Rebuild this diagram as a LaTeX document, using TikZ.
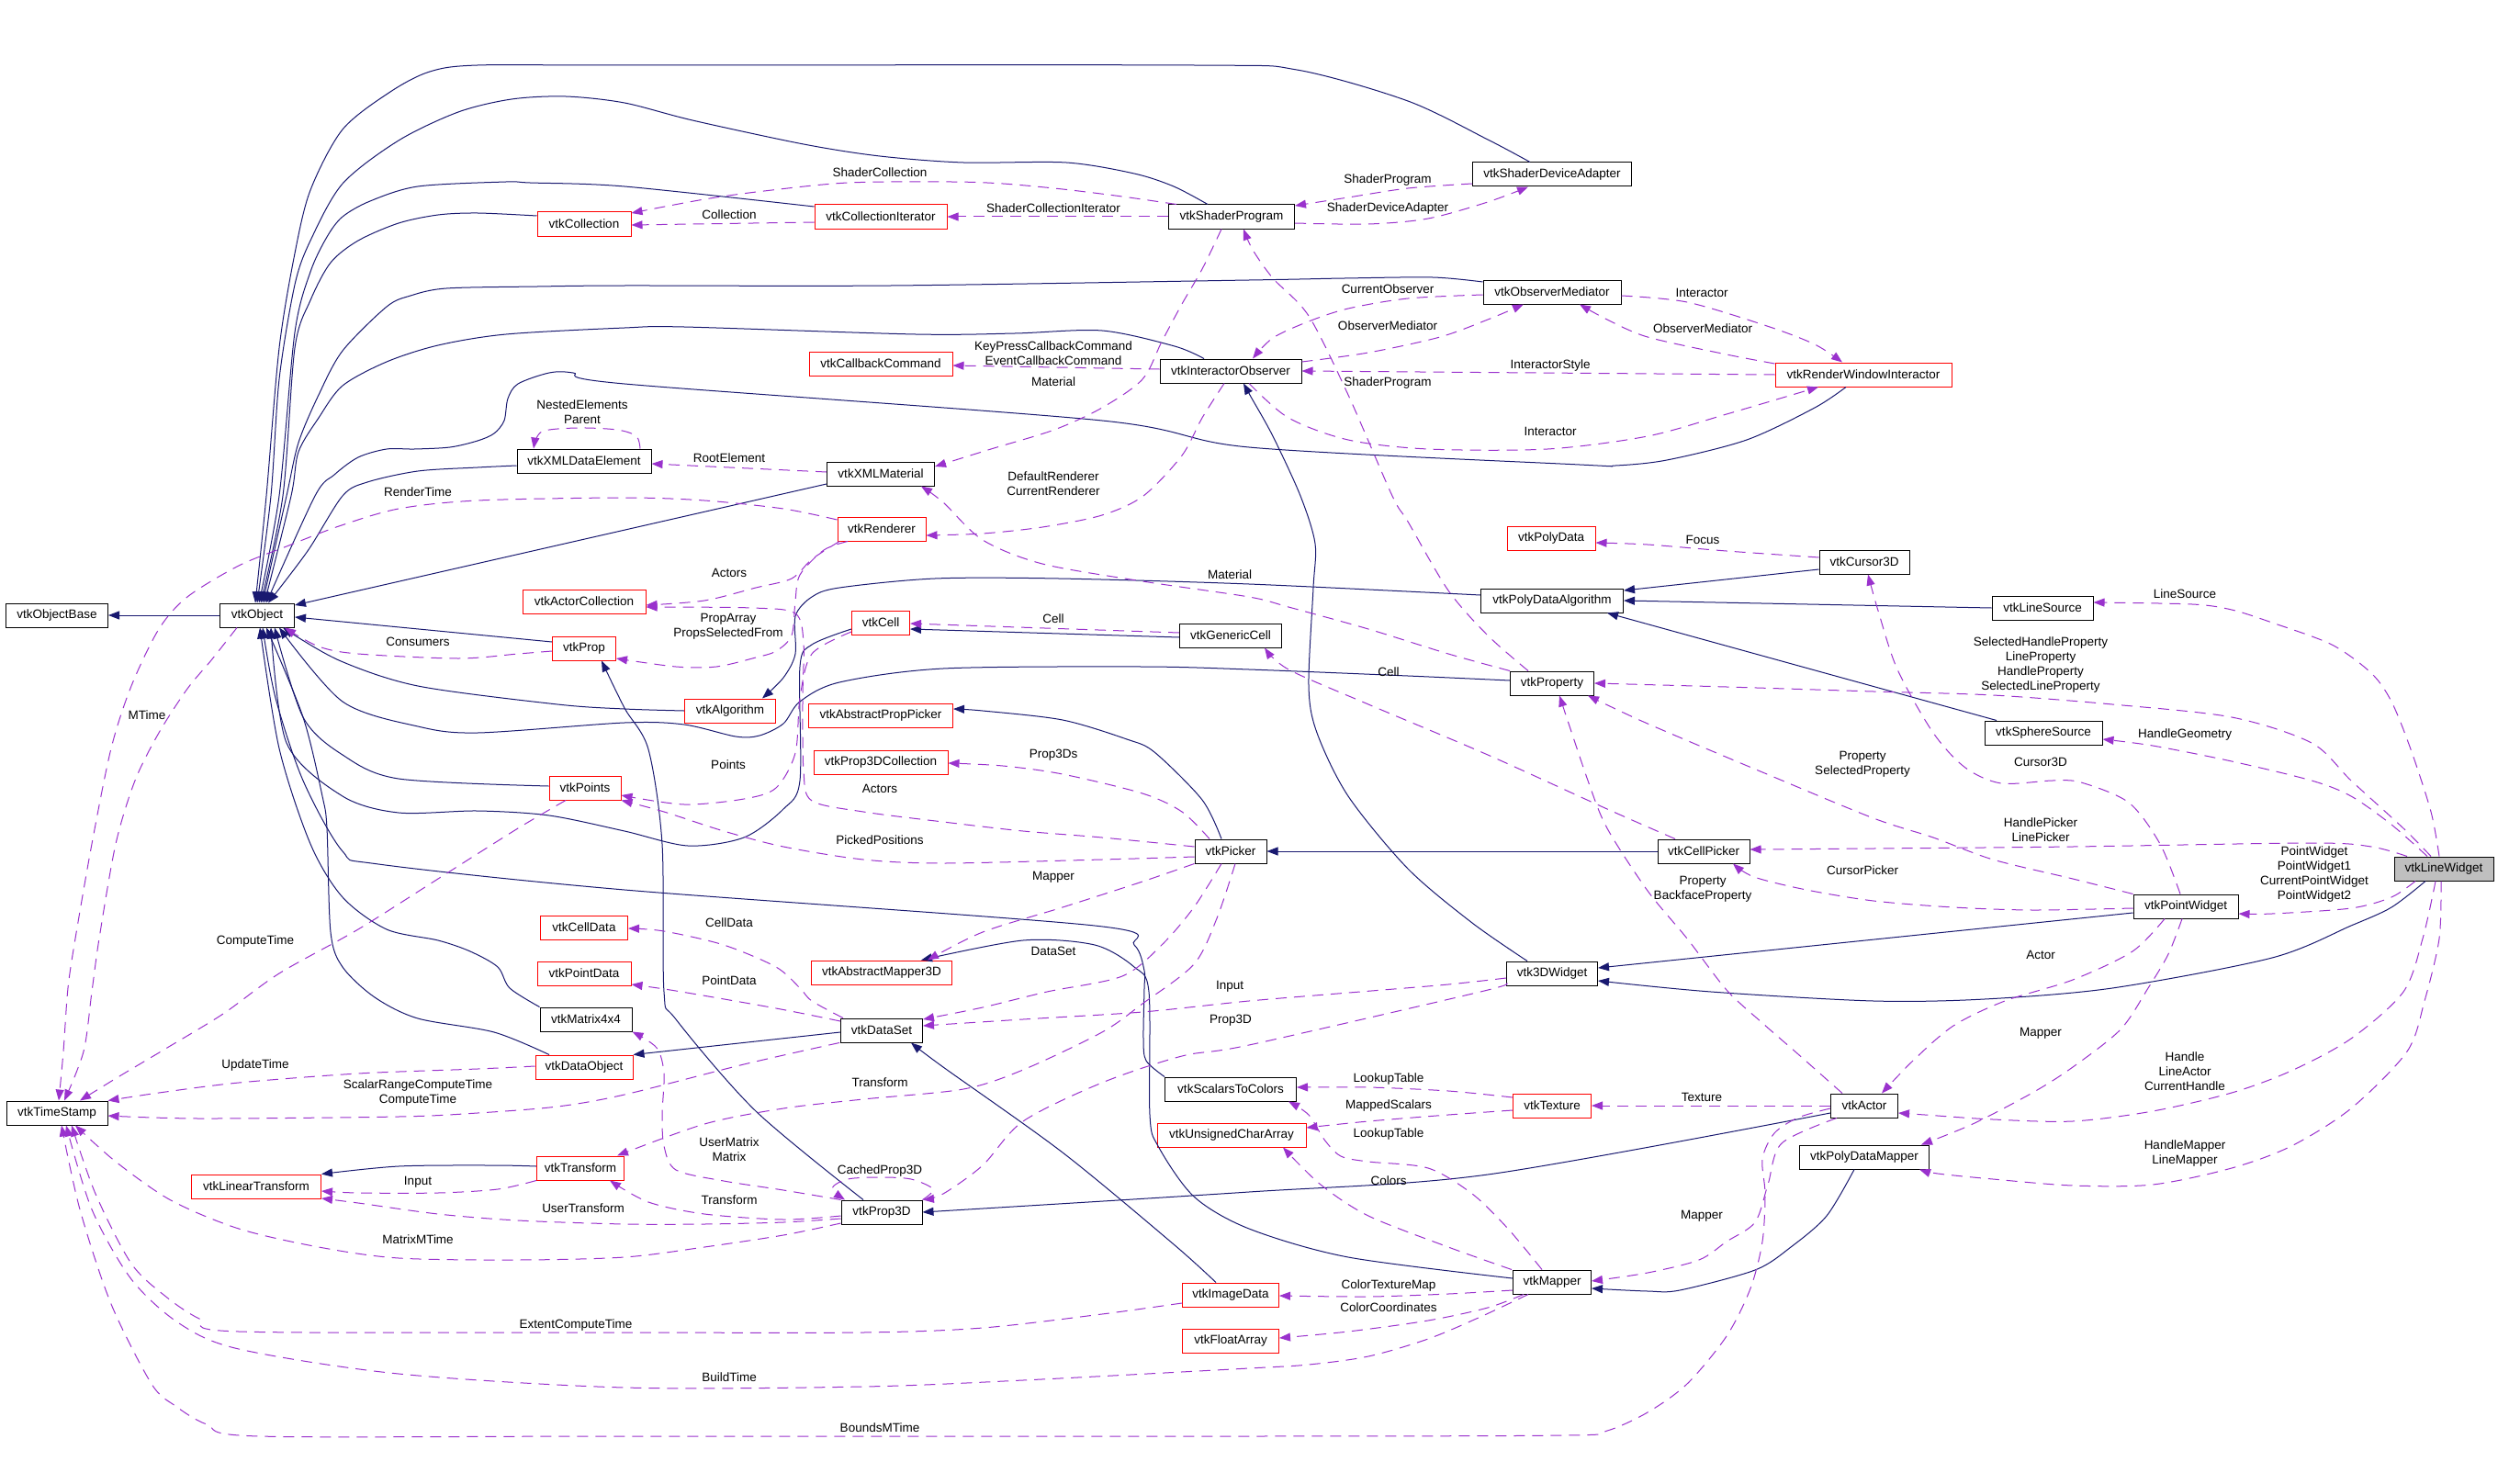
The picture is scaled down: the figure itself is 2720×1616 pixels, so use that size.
\documentclass[tikz,border=0pt]{standalone}
\usepackage{fontspec}
\setmainfont{Liberation Sans}
\usepackage{tikz}
\usepackage{xcolor}
\usetikzlibrary{arrows.meta}

\definecolor{edgeblue}{RGB}{25,25,112}
\definecolor{edgepurple}{RGB}{154,50,205}
\newcommand\lblfont{\fontsize{13.5}{16}\selectfont}

\tikzset{
  cls/.style={draw=black, line width=1pt, fill=white, minimum height=26pt,
    inner xsep=4pt, inner ysep=0pt, font=\lblfont},
  clsred/.style={cls, draw=red},
  clscur/.style={cls, fill=black!25},
  baseedge/.style={edgeblue, line width=1pt, -{Triangle[length=12pt,width=9pt]}},
  useedge/.style={edgepurple, line width=1pt, dash pattern=on 12pt off 8pt,
    -{Triangle[length=12pt,width=9pt]}},
  lbl/.style={font=\lblfont, inner sep=0pt, align=center}
}

\begin{document}
\begin{tikzpicture}[x=1pt,y=-1pt]
    \useasboundingbox (0,0) rectangle (2720,1616);
    \fill[white] (0,0) rectangle (2720,1616);

    % classes
    \node[cls, minimum width=111pt] (ObjBase) at (62,670) {vtkObjectBase};
    \node[cls, minimum width=81pt] (Obj) at (280,670) {vtkObject};
    \node[cls, minimum width=110pt] (TimeStamp) at (62,1212) {vtkTimeStamp};
    \node[clsred, minimum width=102pt] (Collection) at (636,244) {vtkCollection};
    \node[clsred, minimum width=144pt] (CollIter) at (959,236) {vtkCollectionIterator};
    \node[cls, minimum width=137pt] (ShaderProg) at (1341,236) {vtkShaderProgram};
    \node[cls, minimum width=173pt] (ShaderDev) at (1690,190) {vtkShaderDeviceAdapter};
    \node[cls, minimum width=150pt] (ObsMed) at (1690,318) {vtkObserverMediator};
    \node[clsred, minimum width=192pt] (RWI) at (2029,408) {vtkRenderWindowInteractor};
    \node[cls, minimum width=154pt] (IntObs) at (1340,404) {vtkInteractorObserver};
    \node[clsred, minimum width=156pt] (CallbackCmd) at (959,396) {vtkCallbackCommand};
    \node[cls, minimum width=146pt] (XMLDataEl) at (636,502) {vtkXMLDataElement};
    \node[cls, minimum width=117pt] (XMLMat) at (959,516) {vtkXMLMaterial};
    \node[clsred, minimum width=96pt] (Renderer) at (960,576) {vtkRenderer};
    \node[clsred, minimum width=134pt] (ActorColl) at (636,655) {vtkActorCollection};
    \node[clsred, minimum width=69pt] (Prop) at (636,706) {vtkProp};
    \node[clsred, minimum width=63pt] (Cell) at (959,678) {vtkCell};
    \node[cls, minimum width=111pt] (GenCell) at (1340,692) {vtkGenericCell};
    \node[clsred, minimum width=99pt] (Algorithm) at (795,774) {vtkAlgorithm};
    \node[clsred, minimum width=157pt] (AbsPropPicker) at (959,779) {vtkAbstractPropPicker};
    \node[clsred, minimum width=146pt] (Prop3DColl) at (959,830) {vtkProp3DCollection};
    \node[clsred, minimum width=78pt] (Points) at (637,858) {vtkPoints};
    \node[cls, minimum width=78pt] (Picker) at (1340,927) {vtkPicker};
    \node[clsred, minimum width=95pt] (CellData) at (636,1010) {vtkCellData};
    \node[clsred, minimum width=102pt] (PointData) at (636,1060) {vtkPointData};
    \node[clsred, minimum width=153pt] (AbsMapper) at (960,1059) {vtkAbstractMapper3D};
    \node[cls, minimum width=100pt] (Matrix) at (638,1110) {vtkMatrix4x4};
    \node[cls, minimum width=89pt] (DataSet) at (960,1122) {vtkDataSet};
    \node[clsred, minimum width=106pt] (DataObj) at (636,1162) {vtkDataObject};
    \node[clsred, minimum width=95pt] (Transform) at (632,1272) {vtkTransform};
    \node[clsred, minimum width=141pt] (LinTransform) at (279,1292) {vtkLinearTransform};
    \node[cls, minimum width=88pt] (Prop3D) at (960,1320) {vtkProp3D};
    \node[clsred, minimum width=105pt] (ImageData) at (1340,1410) {vtkImageData};
    \node[clsred, minimum width=105pt] (FloatArr) at (1340,1460) {vtkFloatArray};
    \node[cls, minimum width=85pt] (Mapper) at (1690,1396) {vtkMapper};
    \node[cls, minimum width=143pt] (ScalarsToColors) at (1340,1186) {vtkScalarsToColors};
    \node[clsred, minimum width=162pt] (UCharArr) at (1341,1236) {vtkUnsignedCharArray};
    \node[clsred, minimum width=85pt] (Texture) at (1690,1204) {vtkTexture};
    \node[cls, minimum width=73pt] (Actor) at (2030,1204) {vtkActor};
    \node[cls, minimum width=141pt] (PDMapper) at (2030,1260) {vtkPolyDataMapper};
    \node[cls, minimum width=99pt] (Widget3D) at (1690,1060) {vtk3DWidget};
    \node[cls, minimum width=100pt] (CellPicker) at (1855,927) {vtkCellPicker};
    \node[cls, minimum width=91pt] (Property) at (1690,744) {vtkProperty};
    \node[cls, minimum width=155pt] (PDAlgorithm) at (1690,654) {vtkPolyDataAlgorithm};
    \node[clsred, minimum width=96pt] (PolyData) at (1689,586) {vtkPolyData};
    \node[cls, minimum width=98pt] (Cursor3D) at (2030,612) {vtkCursor3D};
    \node[cls, minimum width=110pt] (LineSource) at (2224,662) {vtkLineSource};
    \node[cls, minimum width=128pt] (SphereSource) at (2225,798) {vtkSphereSource};
    \node[cls, minimum width=114pt] (PointWidget) at (2380,987) {vtkPointWidget};
    \node[clscur, minimum width=108pt] (LineWidget) at (2661,946) {vtkLineWidget};

    % inheritance
    \draw[baseedge] (Obj) -- (ObjBase);
    \draw[baseedge] plot[smooth] coordinates {([xshift=-24pt]ShaderDev.north) (1620,152) (1533,110) (1412,76) (1300,71) (680,71) (520,71) (468,78) (425,100) (373,141) (338,207) (321,276) (304,379) (290,540) ([xshift=-2pt]Obj.north)};
    \draw[baseedge] plot[smooth] coordinates {([xshift=-26pt]ShaderProg.north) (1278,203) (1235,189) (1161,177) (1049,177) (958,170) (875,157) (754,131) (680,112) (616,105) (557,108) (499,122) (434,153) (373,200) (338,262) (321,310) (304,413) (295,540) (Obj.north)};
    \draw[baseedge] plot[smooth] coordinates {([yshift=11pt]CollIter.west) (680,203) (577,199) (551,198) (455,203) (403,219) (373,236) (356,258) (338,296) (321,362) (304,540) ([xshift=2pt]Obj.north)};
    \draw[baseedge] plot[smooth] coordinates {([yshift=9pt]Collection.west) (520,232) (477,234) (434,243) (390,262) (360,286) (338,327) (321,379) (308,540) ([xshift=4pt]Obj.north)};
    \draw[baseedge] plot[smooth] coordinates {([yshift=11pt]ObsMed.west) (1560,302) (1464,303) (1360,305) (970,311) (680,311) (585,312) (486,314) (447,322) (421,334) (373,382) (347,430) (325,482) (312,540) ([xshift=6pt]Obj.north)};
    \draw[baseedge] plot[smooth] coordinates {([xshift=-29pt]IntObs.north) (1279,377) (1200,360) (1105,363) (997,364) (745,356) (680,357) (551,364) (477,376) (421,394) (373,420) (347,455) (325,492) (317,540) ([xshift=8pt]Obj.north)};
    \draw[baseedge] plot[smooth] coordinates {([xshift=-19pt]RWI.south) (1976,444) (1902,479) (1815,501) (1759,507) (1720,506) (1360,487) (1200,458) (680,418) (624,406) (598,406) (564,418) (553,434) (549,458) (538,472) (520,480) (490,487) (451,489) (421,489) (390,498) (364,517) (343,540) ([xshift=10pt]Obj.north)};
    \draw[baseedge] plot[smooth] coordinates {([yshift=-5pt]XMLDataEl.west) (520,509) (455,513) (400,525) (373,540) (335,600) ([xshift=12pt]Obj.north)};
    \draw[baseedge] ([yshift=-11pt]XMLMat.west) -- ([yshift=11pt]Obj.east);
    \draw[baseedge] ([yshift=7pt]Prop.west) -- ([yshift=-2pt]Obj.east);
    \draw[baseedge] plot[smooth] coordinates {(Algorithm.west) (680,772) (607,767) (455,747) (369,719) ([xshift=28pt]Obj.south)};
    \draw[baseedge] plot[smooth] coordinates {([yshift=3pt]Property.west) (1533,736) (1360,729) (1244,726) (1027,728) (914,743) (871,764) (853,788) (827,801) (801,802) (745,789) (680,787) (520,798) (455,791) (373,764) ([xshift=24pt]Obj.south)};
    \draw[baseedge] plot[smooth] coordinates {([yshift=-7pt]Cell.west) (884,702) (871,726) (871,850) (853,881) (810,912) (749,921) (680,905) (598,888) (520,883) (434,885) (373,867) (312,809) ([xshift=15pt]Obj.south)};
    \draw[baseedge] plot[smooth] coordinates {([yshift=2pt]Points.west) (434,848) (373,822) (330,781) ([xshift=19pt]Obj.south)};
    \draw[baseedge] plot[smooth] coordinates {(ScalarsToColors.north west) (1248,1155) (1245,1131) (1246,1076) (1246,1057) (1235,1029) (1192,1008) (680,969) (412,941) (373,927) (330,850) (300,760) ([xshift=6pt]Obj.south)};
    \draw[baseedge] plot[smooth] coordinates {(Matrix.north west) (555,1076) (542,1053) (512,1036) (477,1024) (421,1012) (373,977) (338,919) (304,815) ([xshift=3pt]Obj.south)};
    \draw[baseedge] plot[smooth] coordinates {([xshift=-38pt]DataObj.north) (538,1124) (455,1109) (408,1086) (373,1053) (360,1015) (356,902) (351,867) (330,781) ([xshift=10pt]Obj.south)};
    \draw[baseedge] plot[smooth] coordinates {([xshift=-20pt]Prop3D.north) (823,1210) (736,1110) (723,1080) (721,919) (706,816) (680,771) ([xshift=19pt]Prop.south)};
    \draw[baseedge] plot[smooth] coordinates {([xshift=-10pt]Picker.north) (1309,871) (1257,819) (1227,805) (1157,784) (1070,774) ([yshift=7pt]AbsPropPicker.east)};
    \draw[baseedge] ([yshift=-2pt]GenCell.west) -- ([yshift=-7pt]Cell.east);
    \draw[baseedge] plot[smooth] coordinates {([yshift=6pt]PDAlgorithm.west) (1360,636) (1153,630) (1018,630) (914,640) (884,650) (866,671) (866,712) (853,738) ([xshift=35pt]Algorithm.north)};
    \draw[baseedge] ([yshift=-8pt]Cursor3D.west) -- ([yshift=11pt]PDAlgorithm.east);
    \draw[baseedge] (LineSource.west) -- (PDAlgorithm.east);
    \draw[baseedge] ([xshift=-51pt]SphereSource.north) -- ([xshift=60pt]PDAlgorithm.south);
    \draw[baseedge] (CellPicker) -- (Picker);
    \draw[baseedge] plot[smooth] coordinates {([xshift=-27pt]Widget3D.north) (1603,1005) (1533,946) (1468,867) (1434,798) (1425,747) (1430,640) (1432,592) (1416,540) (1386,475) (1362,432) ([xshift=14pt]IntObs.south)};
    \draw[baseedge] ([yshift=-7pt]PointWidget.west) -- ([yshift=6pt]Widget3D.east);
    \draw[baseedge] plot[smooth] coordinates {([xshift=-20pt]LineWidget.south) (2604,988) (2560,1008) (2474,1043) (2300,1076) (2161,1088) (2040,1090) (1863,1080) ([yshift=-8pt]Widget3D.east)};
    \draw[baseedge] plot[smooth] coordinates {([yshift=-8pt]Actor.west) (1620,1279) (1360,1298) (Prop3D.east)};
    \draw[baseedge] plot[smooth] coordinates {([xshift=-11pt]PDMapper.south) (1989,1324) (1950,1358) (1911,1383) (1829,1405) (1794,1406) ([yshift=-7pt]Mapper.east)};
    \draw[baseedge] ([yshift=-2pt]DataSet.west) -- (DataObj.north east);
    \draw[baseedge] plot[smooth] coordinates {([xshift=-16pt]ImageData.north) (1278,1355) (1157,1255) (1027,1162) ([xshift=32pt]DataSet.south)};
    \draw[baseedge] plot[smooth] coordinates {([yshift=2pt]Transform.west) (538,1269) (434,1270) (LinTransform.north east)};
    \draw[baseedge] plot[smooth] coordinates {([yshift=4pt]Mapper.west) (1468,1369) (1360,1338) (1300,1303) (1261,1248) (1252,1214) (1251,1080) (1235,1053) (1192,1029) (1114,1024) ([xshift=43pt]AbsMapper.north)};

    % usage, top part
    \draw[useedge] plot[smooth] coordinates {([xshift=-60pt]ShaderProg.north) (1222,214) (1157,206) (1092,200) (1036,198) (923,199) (832,208) (767,217) ([yshift=12pt]Collection.east)};
    \draw[useedge] ([yshift=-6pt]CollIter.west) -- ([yshift=-1pt]Collection.east);
    \draw[useedge] (ShaderProg.west) -- (CollIter.east);
    \draw[useedge] plot[smooth] coordinates {([yshift=-10pt]ShaderDev.west) (1533,205) (1468,215) ([yshift=12pt]ShaderProg.east)};
    \draw[useedge] plot[smooth] coordinates {([yshift=-7pt]ShaderProg.east) (1490,244) (1555,238) (1620,220) ([xshift=-26pt]ShaderDev.south)};
    \draw[useedge] plot[smooth] coordinates {([yshift=-3pt]ObsMed.west) (1533,325) (1468,336) (1425,350) (1386,368) ([xshift=24pt]IntObs.north)};
    \draw[useedge] plot[smooth] coordinates {([yshift=10pt]IntObs.east) (1490,384) (1568,367) (1620,348) ([xshift=-31pt]ObsMed.south)};
    \draw[useedge] plot[smooth] coordinates {([yshift=12pt]RWI.west) (1880,386) (1794,367) (1750,348) ([xshift=30pt]ObsMed.south)};
    \draw[useedge] plot[smooth] coordinates {([yshift=-4pt]ObsMed.east) (1837,329) (1924,355) (1976,375) ([xshift=-23pt]RWI.north)};
    \draw[useedge] (RWI.west) -- (IntObs.east);
    \draw[useedge] plot[smooth] coordinates {([xshift=20pt]IntObs.south) (1403,455) (1468,479) (1555,489) (1685,489) (1794,475) (1880,451) ([xshift=-49pt]RWI.south)};
    \draw[useedge] ([yshift=2pt]IntObs.west) -- ([yshift=-2pt]CallbackCmd.east);
    \draw[useedge] plot[smooth] coordinates {([xshift=-26pt]Property.north) (1620,692) (1577,643) (1533,568) (1516,540) (1468,430) (1425,344) (1386,303) (1364,272) ([xshift=13pt]ShaderProg.south)};
    \draw[useedge] plot[smooth] coordinates {([xshift=-11pt]ShaderProg.south) (1309,293) (1287,331) (1265,372) (1244,413) (1200,444) (1148,468) (1079,489) ([yshift=8pt]XMLMat.east)};
    \draw[useedge] plot[smooth] coordinates {([xshift=61pt]XMLDataEl.north) (693,475) (672,468) (629,466) (590,470) ([xshift=-55pt]XMLDataEl.north)};
    \draw[useedge] ([yshift=2pt]XMLMat.west) -- ([yshift=-3pt]XMLDataEl.east);
    \draw[useedge] plot[smooth] coordinates {(Property.north west) (1577,712) (1490,685) (1403,661) (1360,650) (1244,633) (1135,614) (1070,588) (1027,547) ([xshift=44pt]XMLMat.south)};
    \draw[useedge] plot[smooth] coordinates {([xshift=-7pt]IntObs.south) (1309,455) (1287,496) (1245,540) (1200,561) (1135,574) (1070,581) ([yshift=-7pt]Renderer.east)};

    % usage, middle part
    \draw[useedge] plot[smooth] coordinates {([yshift=10pt]Renderer.west) (853,554) (767,545) (680,542) (520,545) (434,554) (369,573) (312,595) (260,616) (204,650) (173,685) (143,747) (121,815) (100,919) (82,1022) (74,1076) (69,1145) ([xshift=2pt]TimeStamp.north)};
    \draw[useedge] plot[smooth] coordinates {([xshift=-22pt]Obj.south) (230,719) (204,750) (173,798) (147,850) (126,919) (108,1022) (100,1080) (91,1145) ([xshift=8pt]TimeStamp.north)};
    \draw[useedge] plot[smooth] coordinates {([xshift=-46pt]Renderer.south) (884,609) (862,630) (823,640) (767,654) ([yshift=-4pt]ActorColl.east)};
    \draw[useedge] plot[smooth] coordinates {([xshift=-37pt]Renderer.south) (897,599) (871,626) (866,654) (862,692) (845,709) (823,716) (780,726) (736,726) ([yshift=-11pt]Prop.east)};
    \draw[useedge] plot[smooth] coordinates {([yshift=-3pt]Prop.west) (564,712) (499,717) (390,712) (347,704) ([xshift=30pt]Obj.south)};
    \draw[useedge] plot[smooth] coordinates {([yshift=-10pt]Cell.west) (884,712) (871,760) (866,820) (845,858) (810,870) (745,876) ([yshift=-8pt]Points.east)};
    \draw[useedge] plot[smooth] coordinates {([yshift=5pt]Picker.west) (1200,912) (1114,905) (1027,895) (940,884) (884,872) (875,840) (874,760) (875,700) (866,668) (820,662) ([yshift=-6pt]ActorColl.east)};
    \draw[useedge] plot[smooth] coordinates {([yshift=-6pt]Picker.west) (1200,936) (1027,940) (940,936) (853,922) (788,905) (723,884) (Points.south east)};
    \draw[useedge] plot[smooth] coordinates {([xshift=-23pt]Picker.north) (1287,884) (1244,864) (1157,843) (1092,834) ([yshift=-1pt]Prop3DColl.east)};
    \draw[useedge] ([yshift=3pt]GenCell.west) -- ([yshift=-1pt]Cell.east);
    \draw[useedge] plot[smooth] coordinates {([xshift=-31pt]CellPicker.north) (1750,881) (1620,822) (1490,767) (1403,729) ([xshift=37pt]GenCell.south)};
    \draw[useedge] plot[smooth] coordinates {(Picker.south west) (1244,960) (1157,988) (1070,1015) ([xshift=50pt]AbsMapper.north)};
    \draw[useedge] plot[smooth] coordinates {([xshift=-10pt]Picker.south) (1300,988) (1265,1029) (1222,1063) (1140,1080) (1070,1097) ([yshift=12pt]DataSet.east)};
    \draw[useedge] plot[smooth] coordinates {([yshift=-5pt]Widget3D.west) (1577,1072) (1481,1080) (1360,1090) (1244,1102) (1114,1110) ([yshift=5pt]DataSet.east)};
    \draw[useedge] plot[smooth] coordinates {([yshift=-11pt]Widget3D.west) (1612,1080) (1360,1138) (1287,1150) (1200,1179) (1114,1221) (1070,1269) (1027,1300) ([xshift=45pt]Prop3D.north)};
    \draw[useedge] plot[smooth] coordinates {([xshift=5pt]Picker.south) (1325,1000) (1300,1050) (1244,1093) (1200,1124) (1114,1165) (1049,1186) (940,1197) (853,1207) (767,1224) ([xshift=40pt]Transform.north)};
    \draw[useedge] plot[smooth] coordinates {([xshift=-42pt]DataSet.north) (884,1090) (871,1076) (845,1053) (788,1029) (723,1014) ([yshift=-1pt]CellData.east)};
    \draw[useedge] plot[smooth] coordinates {([yshift=10pt]DataSet.west) (845,1098) (736,1079) ([yshift=-12pt]PointData.east)};

    % usage, timestamps and transforms
    \draw[useedge] plot[smooth] coordinates {([xshift=-46pt]DataSet.south) (810,1159) (680,1192) (607,1205) (520,1212) (434,1216) (217,1218) ([yshift=-3pt]TimeStamp.east)};
    \draw[useedge] plot[smooth] coordinates {([yshift=1pt]DataObj.west) (520,1164) (390,1169) (260,1179) (173,1190) (TimeStamp.north east)};
    \draw[useedge] plot[smooth] coordinates {([xshift=-21pt]Points.south) (564,902) (477,957) (390,1012) (304,1060) (243,1104) (182,1141) (130,1172) ([xshift=25pt]TimeStamp.north)};
    \draw[useedge] plot[smooth] coordinates {(Transform.south west) (542,1295) (477,1299) (390,1299) ([yshift=-5pt]LinTransform.east)};
    \draw[useedge] plot[smooth] coordinates {([yshift=-7pt]Prop3D.west) (853,1331) (767,1333) (680,1333) (564,1329) (477,1322) (390,1310) ([yshift=-13pt]LinTransform.east)};
    \draw[useedge] plot[smooth] coordinates {([yshift=-4pt]Prop3D.west) (853,1328) (767,1322) (706,1309) ([xshift=32pt]Transform.south)};
    \draw[useedge] plot[smooth] coordinates {(Prop3D.north west) (853,1296) (788,1286) (736,1274) (723,1248) (721,1214) (723,1169) (715,1141) (Matrix.south east)};
    \draw[useedge] plot[smooth] coordinates {(Prop3D.north east) (1016,1295) (992,1284) (958,1282) (923,1284) (906,1294) ([xshift=-40pt]Prop3D.north)};
    \draw[useedge] plot[smooth] coordinates {([yshift=-12pt]Prop3D.west) (853,1345) (767,1358) (680,1369) (564,1372) (434,1370) (347,1358) (260,1338) (186,1307) (126,1265) ([xshift=20pt]TimeStamp.south)};
    \draw[useedge] plot[smooth] coordinates {([yshift=-9pt]ImageData.west) (1200,1431) (1070,1446) (940,1451) (680,1451) (260,1450) (217,1436) (182,1413) (143,1376) (104,1300) ([xshift=16pt]TimeStamp.south)};
    \draw[useedge] plot[smooth] coordinates {([xshift=-26pt]Mapper.south) (1612,1434) (1555,1458) (1490,1477) (1425,1486) (1360,1490) (1114,1503) (940,1510) (680,1511) (434,1496) (260,1469) (195,1441) (143,1393) (100,1317) ([xshift=10pt]TimeStamp.south)};
    \draw[useedge] plot[smooth] coordinates {([yshift=-3pt]Actor.west) (1958,1217) (1932,1234) (1919,1262) (1922,1300) (1919,1352) (1906,1403) (1880,1455) (1837,1507) (1794,1538) (1750,1558) (1707,1563) (1360,1564) (680,1564) (282,1564) (225,1551) (191,1531) (165,1507) (121,1420) (87,1317) ([xshift=5pt]TimeStamp.south)};

    % usage, mapper and actor
    \draw[useedge] plot[smooth] coordinates {([yshift=-9pt]Mapper.west) (1577,1409) (1490,1412) ([yshift=-1pt]ImageData.east)};
    \draw[useedge] plot[smooth] coordinates {([xshift=-31pt]Mapper.south) (1620,1424) (1555,1438) (1468,1450) ([yshift=3pt]FloatArr.east)};
    \draw[useedge] plot[smooth] coordinates {([xshift=-11pt]Mapper.north) (1642,1338) (1603,1300) (1555,1272) (1490,1265) (1460,1259) (1442,1241) (1425,1214) ([xshift=63pt]ScalarsToColors.south)};
    \draw[useedge] plot[smooth] coordinates {([xshift=-44pt]Mapper.north) (1577,1358) (1490,1324) (1438,1290) ([xshift=56pt]UCharArr.south)};
    \draw[useedge] plot[smooth] coordinates {([yshift=9pt]Texture.west) (1577,1188) (1490,1184) ([yshift=2pt]ScalarsToColors.east)};
    \draw[useedge] plot[smooth] coordinates {([yshift=-5pt]Texture.west) (1577,1214) (1490,1221) ([yshift=8pt]UCharArr.east)};
    \draw[useedge] (Actor) -- (Texture);
    \draw[useedge] plot[smooth] coordinates {([xshift=-30pt]Actor.south) (1940,1245) (1925,1290) (1911,1331) (1880,1352) (1850,1372) (1794,1386) ([yshift=1pt]Mapper.east)};
    \draw[useedge] plot[smooth] coordinates {([xshift=-24pt]Actor.north) (1958,1148) (1919,1114) (1880,1078) (1837,1022) (1794,970) (1750,902) (1729,850) ([xshift=8pt]Property.south)};

    % usage, widgets
    \draw[useedge] plot[smooth] coordinates {([xshift=-23pt]PointWidget.south) (2322,1036) (2257,1067) (2183,1090) (2127,1117) (2083,1155) ([xshift=19pt]Actor.north)};
    \draw[useedge] plot[smooth] coordinates {([xshift=-4pt]PointWidget.south) (2361,1039) (2339,1076) (2309,1121) (2257,1162) (2213,1190) (2148,1224) ([xshift=62pt]PDMapper.north)};
    \draw[useedge] plot[smooth] coordinates {([xshift=-9pt]LineWidget.south) (2638,1022) (2617,1080) (2560,1131) (2495,1166) (2430,1190) (2344,1210) (2257,1221) (2170,1219) (2096,1214) ([yshift=-8pt]Actor.east)};
    \draw[useedge] plot[smooth] coordinates {([xshift=-3pt]LineWidget.south) (2656,1022) (2640,1090) (2621,1145) (2560,1207) (2495,1248) (2430,1272) (2344,1290) (2257,1291) (2170,1284) (2110,1278) ([xshift=60pt]PDMapper.south)};
    \draw[useedge] plot[smooth] coordinates {([xshift=-31pt]LineWidget.south) (2604,977) (2560,989) (2474,995) ([yshift=-8pt]PointWidget.east)};
    \draw[useedge] plot[smooth] coordinates {([xshift=-40pt]LineWidget.north) (2582,922) (2517,918) (2257,922) (2040,924) ([yshift=2pt]CellPicker.east)};
    \draw[useedge] plot[smooth] coordinates {([yshift=-2pt]PointWidget.west) (2213,991) (2127,988) (2040,981) (1967,969) (1910,955) ([xshift=32pt]CellPicker.south)};
    \draw[useedge] plot[smooth] coordinates {(PointWidget.north west) (2257,957) (2170,936) (2105,912) (2040,891) (1924,843) (1794,788) ([xshift=39pt]Property.south)};
    \draw[useedge] plot[smooth] coordinates {([xshift=-14pt]LineWidget.north) (2617,902) (2560,850) (2517,809) (2430,781) (2300,767) (2170,757) (2040,753) (1880,748) (Property.east)};
    \draw[useedge] plot[smooth] coordinates {([xshift=-18pt]LineWidget.north) (2604,898) (2560,867) (2517,850) (2430,829) (2344,812) ([yshift=-7pt]SphereSource.east)};
    \draw[useedge] plot[smooth] coordinates {([xshift=-5pt]LineWidget.north) (2647,884) (2625,816) (2604,764) (2582,733) (2539,702) (2474,678) (2430,664) (2387,658) ([yshift=6pt]LineSource.east)};
    \draw[useedge] plot[smooth] coordinates {([yshift=5pt]Cursor3D.west) (1880,600) (1794,593) ([yshift=-5pt]PolyData.east)};
    \draw[useedge] plot[smooth] coordinates {([xshift=-6pt]PointWidget.north) (2352,919) (2318,874) (2266,852) (2235,850) (2179,853) (2140,836) (2105,798) (2066,729) (2045,665) ([xshift=4pt]Cursor3D.south)};

    % edge labels
    \node[lbl] (lShaderColl) at (958,188) {ShaderCollection};
    \node[lbl] (lCollection) at (794,234) {Collection};
    \node[lbl] (lShaderCollIter) at (1147,227) {ShaderCollectionIterator};
    \node[lbl] (lShaderProgA) at (1511,196) {ShaderProgram};
    \node[lbl] (lShaderDev) at (1511,227) {ShaderDeviceAdapter};
    \node[lbl] (lCurObs) at (1511,315) {CurrentObserver};
    \node[lbl] (lObsMedA) at (1511,355) {ObserverMediator};
    \node[lbl] (lObsMedB) at (1854,358) {ObserverMediator};
    \node[lbl] (lInteractorA) at (1853,319) {Interactor};
    \node[lbl] (lIntStyle) at (1688,398) {InteractorStyle};
    \node[lbl] (lInteractorB) at (1688,470) {Interactor};
    \node[lbl] (lCallback) at (1147,385) {KeyPressCallbackCommand\\EventCallbackCommand};
    \node[lbl] (lShaderProgB) at (1511,417) {ShaderProgram};
    \node[lbl] (lMaterialA) at (1147,416) {Material};
    \node[lbl] (lNested) at (634,449) {NestedElements\\Parent};
    \node[lbl] (lRootEl) at (794,499) {RootElement};
    \node[lbl] (lMaterialB) at (1339,626) {Material};
    \node[lbl] (lRenderer) at (1147,527) {DefaultRenderer\\CurrentRenderer};
    \node[lbl] (lRenderTime) at (455,536) {RenderTime};
    \node[lbl] (lMTime) at (160,779) {MTime};
    \node[lbl] (lActorsA) at (794,624) {Actors};
    \node[lbl] (lPropArray) at (793,682) {PropArray\\PropsSelectedFrom};
    \node[lbl] (lConsumers) at (455,699) {Consumers};
    \node[lbl] (lPoints) at (793,833) {Points};
    \node[lbl] (lActorsB) at (958,859) {Actors};
    \node[lbl] (lPicked) at (958,915) {PickedPositions};
    \node[lbl] (lProp3Ds) at (1147,822) {Prop3Ds};
    \node[lbl] (lCellA) at (1147,674) {Cell};
    \node[lbl] (lCellB) at (1512,732) {Cell};
    \node[lbl] (lMapperA) at (1147,955) {Mapper};
    \node[lbl] (lDataSet) at (1147,1036) {DataSet};
    \node[lbl] (lInputA) at (1339,1074) {Input};
    \node[lbl] (lProp3D) at (1340,1111) {Prop3D};
    \node[lbl] (lTransformA) at (958,1179) {Transform};
    \node[lbl] (lCellData) at (794,1005) {CellData};
    \node[lbl] (lPointData) at (794,1068) {PointData};
    \node[lbl] (lScalarRange) at (455,1190) {ScalarRangeComputeTime\\ComputeTime};
    \node[lbl] (lUpdateTime) at (278,1160) {UpdateTime};
    \node[lbl] (lComputeTime) at (278,1025) {ComputeTime};
    \node[lbl] (lInputB) at (455,1287) {Input};
    \node[lbl] (lUserTransform) at (635,1316) {UserTransform};
    \node[lbl] (lTransformB) at (794,1307) {Transform};
    \node[lbl] (lUserMatrix) at (794,1252) {UserMatrix\\Matrix};
    \node[lbl] (lCached) at (958,1275) {CachedProp3D};
    \node[lbl] (lMatrixMTime) at (455,1350) {MatrixMTime};
    \node[lbl] (lExtent) at (627,1443) {ExtentComputeTime};
    \node[lbl] (lBuildTime) at (794,1500) {BuildTime};
    \node[lbl] (lBoundsMTime) at (958,1555) {BoundsMTime};
    \node[lbl] (lColorTexMap) at (1512,1400) {ColorTextureMap};
    \node[lbl] (lColorCoords) at (1512,1424) {ColorCoordinates};
    \node[lbl] (lLookupA) at (1512,1235) {LookupTable};
    \node[lbl] (lColors) at (1512,1286) {Colors};
    \node[lbl] (lLookupB) at (1512,1175) {LookupTable};
    \node[lbl] (lMappedScalars) at (1512,1204) {MappedScalars};
    \node[lbl] (lTexture) at (1853,1195) {Texture};
    \node[lbl] (lMapperB) at (1853,1324) {Mapper};
    \node[lbl] (lActor) at (2222,1040) {Actor};
    \node[lbl] (lMapperC) at (2222,1125) {Mapper};
    \node[lbl] (lHandle) at (2379,1167) {Handle\\LineActor\\CurrentHandle};
    \node[lbl] (lHandleMapper) at (2379,1256) {HandleMapper\\LineMapper};
    \node[lbl] (lPointWidget) at (2520,952) {PointWidget\\PointWidget1\\CurrentPointWidget\\PointWidget2};
    \node[lbl] (lHandlePicker) at (2222,904) {HandlePicker\\LinePicker};
    \node[lbl] (lCursorPicker) at (2028,948) {CursorPicker};
    \node[lbl] (lPropertyA) at (2028,832) {Property\\SelectedProperty};
    \node[lbl] (lSelHandleProp) at (2222,724) {SelectedHandleProperty\\LineProperty\\HandleProperty\\SelectedLineProperty};
    \node[lbl] (lHandleGeom) at (2379,800) {HandleGeometry};
    \node[lbl] (lLineSource) at (2379,647) {LineSource};
    \node[lbl] (lFocus) at (1854,588) {Focus};
    \node[lbl] (lCursor3D) at (2222,830) {Cursor3D};
    \node[lbl] (lPropertyB) at (1854,968) {Property\\BackfaceProperty};
\end{tikzpicture}
\end{document}
